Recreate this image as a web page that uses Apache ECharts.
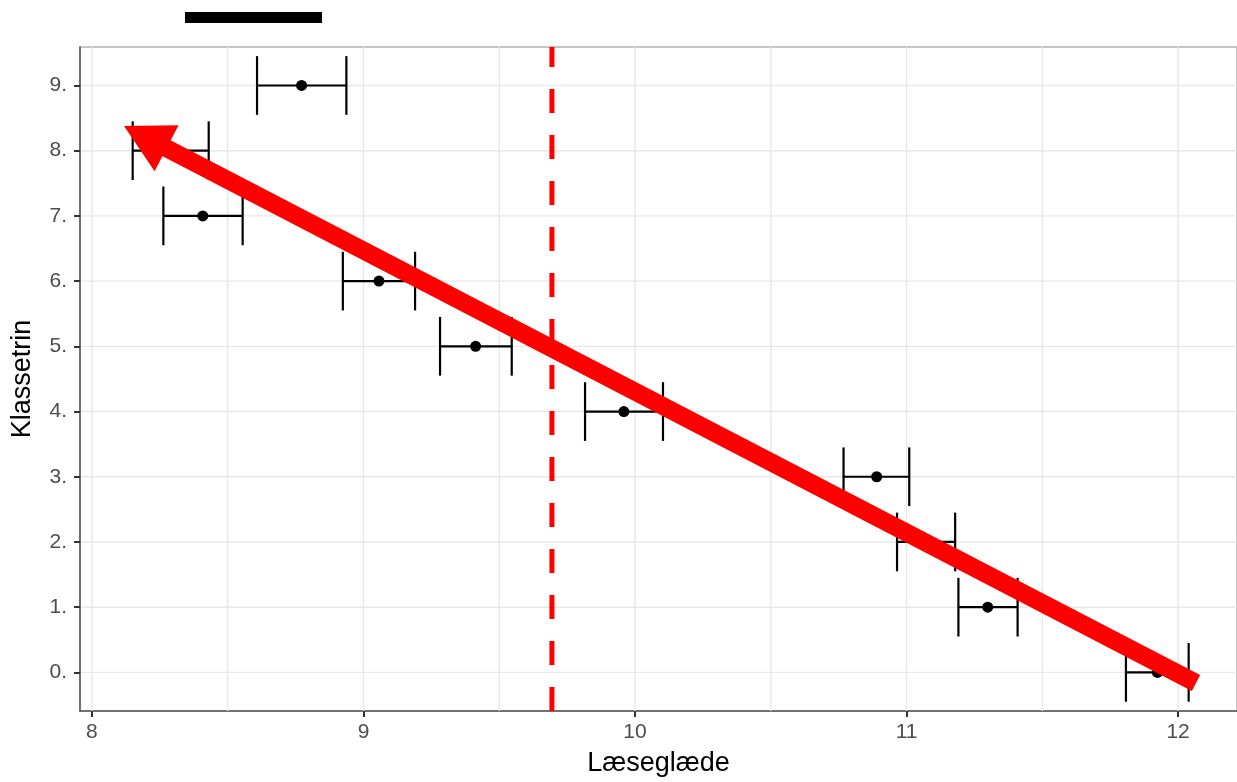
<!DOCTYPE html>
<html>
<head>
<meta charset="utf-8">
<script src="https://cdn.jsdelivr.net/npm/echarts@6/dist/echarts.min.js"></script>
<style>
html,body{margin:0;padding:0;background:#fff;}
#chart{width:1237px;height:782px;}
</style>
</head>
<body>
<div id="chart"></div>
<script>
// ---- data ----
var levels = [0, 1, 2, 3, 4, 5, 6, 7, 8, 9];
var yLabels = ['0.', '1.', '2.', '3.', '4.', '5.', '6.', '7.', '8.', '9.'];
var means = [11.924, 11.299, 11.072, 10.890, 9.959, 9.413, 9.057, 8.408, 8.290, 8.772];
var lower = [11.808, 11.191, 10.965, 10.768, 9.816, 9.282, 8.924, 8.263, 8.150, 8.608];
var upper = [12.039, 11.409, 11.179, 11.010, 10.103, 9.546, 9.190, 8.555, 8.430, 8.937];
var xTicks = [8, 9, 10, 11, 12];
var xMinorGrid = [8.5, 9.5, 10.5, 11.5];
var refLineX = [9.694];
var arrowFrom = [12.066, -0.164];
var arrowTo = [8.118, 8.377];
var xTitle = 'Læseglæde';
var yTitle = 'Klassetrin';

var FONT = 'Liberation Sans, Arial, Helvetica, sans-serif';
var chart = echarts.init(document.getElementById('chart'), null, {renderer: 'canvas'});

function vLineRenderer(color, width, dash) {
  return function (params, api) {
    var cs = params.coordSys;
    var p = api.coord([api.value(0), 0]);
    return {
      type: 'line',
      shape: {x1: p[0], y1: cs.y + cs.height, x2: p[0], y2: cs.y},
      style: {stroke: color, lineWidth: width, lineDash: dash || null, fill: null},
      silent: true
    };
  };
}

var option = {
  animation: false,
  backgroundColor: '#ffffff',
  textStyle: {fontFamily: FONT},
  graphic: [{
    type: 'rect', left: 185, top: 12, shape: {width: 137, height: 11},
    style: {fill: '#000000'}, silent: true, z: 10
  }],
  grid: {
    left: 80, right: 0, top: 47, bottom: 69,
    show: true, borderColor: '#b3b3b3', borderWidth: 1.5, backgroundColor: 'transparent'
  },
  xAxis: {
    type: 'value', min: 7.956, max: 12.217,
    name: xTitle, nameLocation: 'middle', nameGap: 39,
    nameTextStyle: {color: '#000', fontSize: 27, fontFamily: FONT},
    axisLine: {show: true, onZero: false, lineStyle: {color: '#555', width: 1.5}},
    axisTick: {show: true, customValues: xTicks, length: 6, lineStyle: {color: '#333', width: 2}},
    axisLabel: {customValues: xTicks, formatter: function (v) { return String(v); },
      color: '#4d4d4d', fontSize: 21, margin: 11, fontFamily: FONT},
    splitLine: {show: false}
  },
  yAxis: {
    type: 'value', min: -0.592, max: 9.59,
    name: yTitle, nameLocation: 'middle', nameGap: 44, nameRotate: 90,
    nameTextStyle: {color: '#000', fontSize: 27, fontFamily: FONT},
    axisLine: {show: true, onZero: false, lineStyle: {color: '#555', width: 1.5}},
    axisTick: {show: true, customValues: levels, length: 6, lineStyle: {color: '#333', width: 2}},
    axisLabel: {customValues: levels, formatter: function (v) { return yLabels[Math.round(v)]; },
      color: '#4d4d4d', fontSize: 21, margin: 13, fontFamily: FONT},
    splitLine: {show: false}
  },
  series: [
    { // vertical grid (major + minor)
      type: 'custom', z: 1, silent: true,
      data: xTicks.concat(xMinorGrid).map(function (v) { return [v, 0]; }),
      renderItem: vLineRenderer('#e8e8e8', 1.4)
    },
    { // horizontal grid
      type: 'custom', z: 1, silent: true,
      data: levels.map(function (v) { return [8, v]; }),
      renderItem: function (params, api) {
        var cs = params.coordSys;
        var p = api.coord([8, api.value(1)]);
        return {type: 'line', shape: {x1: cs.x + 1, y1: p[1], x2: cs.x + cs.width, y2: p[1]},
          style: {stroke: '#e8e8e8', lineWidth: 1.4}, silent: true};
      }
    },
    { // reference dashed line
      type: 'custom', z: 2, silent: true,
      data: refLineX.map(function (v) { return [v, 0]; }),
      renderItem: vLineRenderer('#ff0000', 5, [24, 22])
    },
    { // error bars
      type: 'custom', z: 3, silent: true,
      data: levels.map(function (l, i) { return [lower[i], upper[i], l]; }),
      encode: {x: [0, 1], y: 2},
      renderItem: function (params, api) {
        var lo = api.value(0), hi = api.value(1), y = api.value(2);
        var a = api.coord([lo, y]), b = api.coord([hi, y]);
        var half = Math.abs(api.coord([lo, y + 0.45])[1] - a[1]);
        var st = {stroke: '#000', lineWidth: 2.2};
        return {type: 'group', children: [
          {type: 'line', shape: {x1: a[0], y1: a[1], x2: b[0], y2: b[1]}, style: st},
          {type: 'line', shape: {x1: a[0], y1: a[1] - half, x2: a[0], y2: a[1] + half}, style: st},
          {type: 'line', shape: {x1: b[0], y1: b[1] - half, x2: b[0], y2: b[1] + half}, style: st}
        ]};
      }
    },
    { // points
      type: 'scatter', z: 4, silent: true,
      data: levels.map(function (l, i) { return [means[i], l]; }),
      symbol: 'circle', symbolSize: 11,
      itemStyle: {color: '#000', opacity: 1}
    },
    { // arrow
      type: 'custom', z: 5, silent: true,
      data: [[arrowFrom[0], arrowFrom[1], arrowTo[0], arrowTo[1]]],
      encode: {x: [0, 2], y: [1, 3]},
      renderItem: function (params, api) {
        var s = api.coord([api.value(0), api.value(1)]);
        var e = api.coord([api.value(2), api.value(3)]);
        var dx = e[0] - s[0], dy = e[1] - s[1];
        var len = Math.sqrt(dx * dx + dy * dy);
        var ux = dx / len, uy = dy / len, nx = -uy, ny = ux;
        var L = 48, W = 26;
        var bx = e[0] - L * ux, by = e[1] - L * uy;
        return {type: 'group', children: [
          {type: 'line', shape: {x1: s[0], y1: s[1], x2: bx + 10 * ux, y2: by + 10 * uy},
            style: {stroke: '#ff0000', lineWidth: 18, lineCap: 'butt'}},
          {type: 'polygon', shape: {points: [[e[0], e[1]], [bx + W * nx, by + W * ny], [bx - W * nx, by - W * ny]]},
            style: {fill: '#ff0000'}}
        ]};
      }
    }
  ]
};
chart.setOption(option);
</script>
</body>
</html>
